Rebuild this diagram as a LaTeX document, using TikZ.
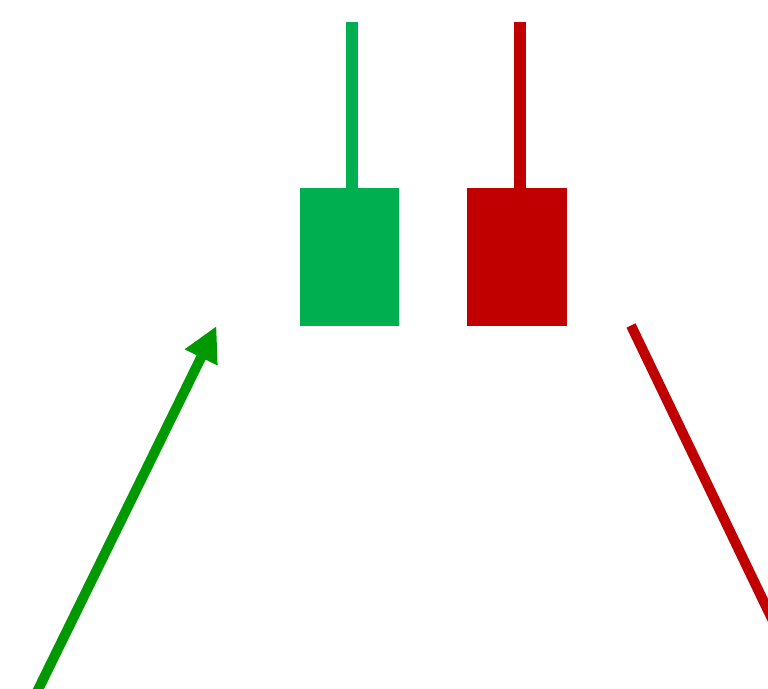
\documentclass[tikz,border=0pt]{standalone}
\usetikzlibrary{arrows.meta}
\definecolor{upgreen}{RGB}{0,176,80}
\definecolor{downred}{RGB}{192,0,0}
\definecolor{trendgreen}{RGB}{0,153,0}
\tikzset{
  body/.style={draw=none, minimum height=138pt, inner sep=0pt, outer sep=0pt},
  wick/.style={line width=12pt},
  trend/.style={line width=10pt}
}
\begin{document}
\begin{tikzpicture}[x=1pt, y=-1pt]
  \useasboundingbox (0,0) rectangle (768,688);
  \clip (0,0) rectangle (768,688);
  % candle bodies
  \node[body, fill=upgreen, minimum width=99pt] (gb) at (349.5,257) {};
  \node[body, fill=downred, minimum width=100pt] (rb) at (517,257) {};
  % upper wicks
  \coordinate (gt) at (352,22);
  \coordinate (rt) at (519.5,22);
  \draw[wick, upgreen] (gt) -- (gt |- gb.north);
  \draw[wick, downred] (rt) -- (rt |- rb.north);
  % rising trend arrow
  \coordinate (as) at (33,700);
  \coordinate (ae) at (216.5,326);
  \draw[trend, trendgreen, -{Triangle[length=35pt,width=34pt]}] (as) -- (ae);
  % falling trend line
  \coordinate (rs) at (631,325.5);
  \coordinate (re) at (800,677);
  \draw[trend, downred] (rs) -- (re);
\end{tikzpicture}
\end{document}
